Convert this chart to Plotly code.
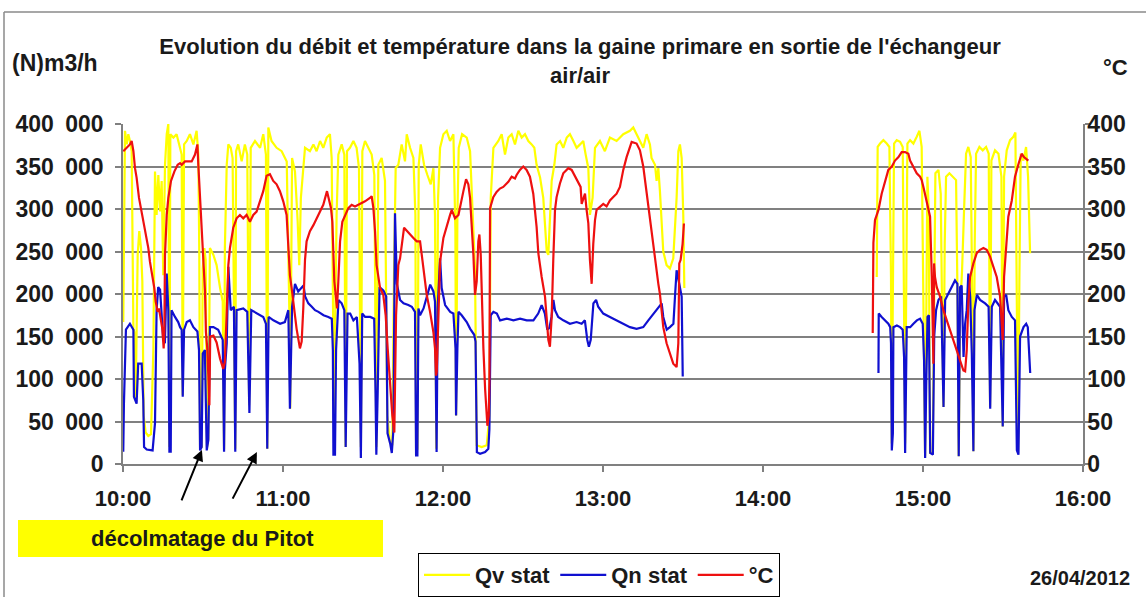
import plotly.graph_objects as go

# ---------------- DATA ----------------
# time = minutes after 10:00 on 26/04/2012
x_tick_minutes = [0, 60, 120, 180, 240, 300, 360]
x_tick_labels = ["10:00", "11:00", "12:00", "13:00", "14:00", "15:00", "16:00"]
q_tick_values = [0, 50000, 100000, 150000, 200000, 250000, 300000, 350000, 400000]
q_tick_labels = ["0", "50\u2002000", "100\u2002000", "150\u2002000", "200\u2002000", "250\u2002000",
                 "300\u2002000", "350\u2002000", "400\u2002000"]
t_tick_values = [0, 50, 100, 150, 200, 250, 300, 350, 400]
t_tick_labels = ["0", "50", "100", "150", "200", "250", "300", "350", "400"]

# Qv stat (thousand m3/h), morning and afternoon recordings  (minute, value)
qv_am = [(0.1,167),(0.75,392),(1.4,376),(2.0,388),(2.6,380),(3.25,368),(3.9,159),(4.25,155),(4.75,77),(5.5,246),
         (6.1,274),(6.75,254),(7.25,215),(7.75,57),(8.5,37),(9.5,33),(10.5,35),(11.4,136),(12.0,344),(12.6,293),
         (13.25,340),(13.9,297),(14.5,333),(15.1,222),(15.75,352),(16.4,388),(17.0,400),(17.4,20),(17.75,388),(18.9,384),
         (20.1,388),(21.4,372),(22.0,364),(22.4,81),(22.9,376),(23.9,380),(25.1,388),(26.4,376),(27.6,392),(28.25,364),
         (28.6,250),(28.9,20),(29.5,20),(29.9,230),(30.5,254),(31.0,240),(31.3,150),(31.5,20),(32.0,30),(32.6,254),
         (33.9,246),(35.1,234),(36.4,207),(37.4,191),(37.9,18),(38.2,254),(38.9,352),(39.5,376),(40.4,372),(41.1,360),
         (42.1,18),(42.4,368),(43.2,376),(44.5,356),(45.7,376),(46.6,364),(47.3,69),(47.9,372),(49.5,380),(51.4,372),
         (52.6,388),(53.6,364),(54.1,18),(54.5,396),(55.7,380),(57.6,372),(59.5,368),(61.4,356),(62.4,175),(62.7,65),
         (63.4,360),(64.5,344),(65.5,285),(66.1,234),(66.7,313),(67.6,352),(68.25,372),(70.1,368),(71.4,376),(72.6,368),
         (73.9,380),(75.1,372),(76.4,384),(77.6,388),(78.25,360),(78.9,136),(79.2,20),(79.5,144),(80.1,293),(80.75,364),
         (82.0,376),(83.0,364),(83.5,20),(84.0,368),(85.1,372),(86.4,380),(87.6,372),(88.5,348),(89.2,20),(89.75,368),
         (90.75,380),(92.0,372),(93.25,364),(94.25,340),(95.0,20),(95.75,352),(97.0,360),(98.25,333),(99.1,57),(100.1,26),
         (101.0,22),(101.6,215),(102.25,348),(103.25,352),(104.5,376),(105.75,356),(106.4,388),(107.65,372),(108.9,360),(109.65,293),
         (109.9,18),(110.4,18),(110.9,352),(111.65,376),(112.9,352),(114.15,340),(115.4,329),(116.4,348),(117.0,293),(117.5,18),
         (118.15,313),(118.9,372),(120.15,388),(121.4,392),(122.65,380),(123.9,388),(124.65,274),(124.9,57),(125.4,293),(125.9,372),
         (127.15,388),(128.9,384),(130.15,368),(131.15,293),(132.0,230),(132.65,22),(134.5,20),(136.4,22),(137.4,57),(137.9,313),
         (138.9,372),(140.75,380),(142.0,388),(143.25,364),(144.5,384),(145.75,388),(147.0,376),(148.25,392),(149.5,384),(150.75,388),
         (152.0,380),(153.25,376),(154.25,372),(155.1,352),(156.4,337),(157.6,313),(158.25,274),(158.9,250),(159.5,246),(160.1,293),
         (160.75,333),(161.75,352),(162.6,376),(163.9,380),(165.1,372),(166.4,384),(167.6,388),(168.9,380),(170.1,372),(171.4,376),
         (172.6,380),(173.5,364),(174.5,348),(175.1,293),(176.1,313),(177.0,372),(178.85,380),(180.7,368),(182.6,384),(185.1,380),
         (187.6,388),(190.1,392),(191.35,396),(192.6,388),(193.85,380),(195.1,372),(196.35,388),(197.6,376),(198.2,360),(199.5,352),
         (200.1,333),(200.75,348),(201.35,321),(202.0,274),(202.6,250),(203.85,234),(205.1,230),(206.35,242),(207.0,274),(207.6,313),
         (208.25,368),(208.85,376),(209.5,360),(210.1,293),(210.5,207)]
qv_pm = [(282.65,220),(283.0,373),(283.9,377),(285.15,381),(286.4,377),(287.4,373),(288.0,220),(288.3,24),(288.65,181),(289.15,377),
         (290.15,381),(291.4,379),(292.4,373),(292.9,142),(293.3,24),(293.65,181),(294.15,377),(295.15,381),(296.4,377),(297.65,385),
         (298.65,392),(299.5,373),(300.15,220),(300.8,9),(301.15,142),(301.65,338),(302.15,299),(302.65,13),(303.65,13),(304.15,220),
         (304.65,342),(305.8,346),(306.65,318),(307.15,181),(307.65,67),(308.15,260),(308.65,338),(309.9,342),(311.15,338),(312.4,334),
         (313.0,181),(313.4,9),(313.9,181),(314.65,228),(315.4,299),(316.15,365),(317.0,373),(317.9,361),(318.5,181),(318.9,15),
         (319.4,260),(319.9,365),(321.15,373),(322.4,369),(323.65,373),(324.65,365),(325.15,67),(325.65,357),(327.0,369),(328.3,365),
         (329.4,338),(329.9,44),(330.4,338),(331.4,369),(332.65,381),(333.9,385),(334.65,390),(335.15,181),(335.65,13),(336.15,220),
         (336.65,365),(337.65,357),(338.65,373),(339.4,338),(340.15,248)]

# Qn stat (thousand Nm3/h)
qn_am = [(0.1,14.5),(0.35,71),(1.1,158),(2.6,165),(3.9,158),(4.1,79),(5.1,71),(5.7,118),(7.0,118),(7.6,75),
         (7.9,20),(8.9,17),(11.1,16),(12.0,48),(12.6,181),(13.2,208),(13.9,205),(14.5,181),(15.1,146),(15.7,142),
         (16.4,224),(17.0,181),(17.4,14.5),(17.9,14.5),(18.2,181),(19.5,173),(20.7,167),(21.4,161),(22.0,158),(22.4,79),
         (22.9,158),(23.9,167),(25.1,169),(26.4,161),(27.9,156),(28.5,134),(28.9,16),(29.5,20),(29.9,130),(30.7,134),
         (31.4,16),(32.0,28),(32.6,161),(33.9,161),(35.7,158),(37.4,146),(37.9,14.5),(38.2,110),(38.9,142),(39.5,232),
         (40.4,181),(41.6,185),(42.1,14.5),(42.6,181),(45.1,183),(46.6,179),(47.4,60),(48.1,181),(50.1,177),(52.6,173),
         (53.6,165),(54.1,18),(54.6,173),(56.4,169),(58.9,165),(60.7,167),(62.0,181),(62.6,65),(63.4,185),(64.5,212),
         (65.7,203),(67.7,210),(68.3,197),(69.5,189),(70.8,185),(72.0,181),(73.3,179),(75.2,175),(77.0,173),(78.3,171),
         (78.7,134),(78.9,11),(79.5,11),(79.9,134),(80.8,193),(82.0,189),(83.0,181),(83.5,20),(84.2,177),(85.2,177),
         (86.4,169),(87.7,173),(88.7,118),(89.2,7),(89.7,177),(90.8,173),(92.7,173),(94.2,171),(94.7,83),(95.0,11),
         (95.5,83),(96.2,208),(97.7,204),(98.7,197),(99.2,36),(100.2,24),(100.8,13),(101.4,40),(102.0,295),(102.7,212),
         (103.9,193),(105.2,189),(107.0,187),(108.3,185),(109.5,179),(109.9,10),(110.4,10),(110.8,183),(111.4,175),(112.7,183),
         (115.2,211),(116.4,203),(117.0,191),(117.3,100),(117.6,14),(118.0,183),(118.9,242),(119.5,207),(120.8,187),(122.7,179),
         (123.9,177),(124.7,136),(124.9,57),(125.4,136),(125.8,179),(127.0,175),(128.9,167),(130.2,159),(131.7,152),(132.2,144),
         (132.7,14),(133.9,12),(135.8,14),(137.0,18),(137.4,41),(137.9,175),(138.9,179),(140.2,177),(141.4,169),(143.9,171),
         (146.4,169),(148.9,171),(151.4,169),(153.9,169),(155.7,177),(157.0,187),(158.2,177),(159.1,158),(159.9,160),(160.7,173),
         (161.4,193),(162.0,181),(163.2,173),(165.1,169),(167.6,165),(170.1,167),(172.0,165),(173.2,169),(174.1,146),(174.7,138),
         (175.4,146),(176.4,189),(177.4,193),(178.2,185),(180.1,177),(182.6,173),(185.1,169),(187.6,165),(190.1,161),(192.6,159),
         (195.1,161),(197.0,169),(198.9,177),(200.7,185),(202.0,189),(202.6,173),(203.9,158),(205.1,161),(206.4,165),(207.0,197),
         (207.6,228),(208.6,212),(209.5,197),(209.9,103)]
qn_pm = [(283.3,107),(283.4,177),(284.5,173),(285.8,169),(287.0,165),(287.7,161),(288.0,142),(288.3,16),(288.7,36),(288.9,161),
         (290.2,163),(291.4,161),(292.4,158),(292.9,126),(293.3,13),(293.9,161),(295.2,161),(296.4,165),(297.7,169),(298.9,171),
         (299.9,165),(300.4,122),(300.8,7),(301.2,91),(301.7,173),(302.2,175),(302.7,13),(303.7,11),(304.2,150),(304.9,181),
         (305.8,193),(306.8,197),(307.7,67),(308.3,193),(309.5,201),(310.8,208),(312.0,216),(312.9,212),(313.4,9),(313.9,208),
         (314.5,210),(315.2,126),(315.8,165),(316.4,181),(317.0,224),(317.7,197),(318.3,130),(318.9,15),(319.3,181),(320.2,199),
         (321.4,193),(323.3,189),(324.6,185),(325.2,65),(325.8,185),(327.0,193),(328.9,185),(329.9,44),(330.4,197),(331.2,199),
         (332.0,181),(333.3,173),(334.5,169),(335.2,16),(335.8,11),(336.4,150),(337.7,161),(338.7,165),(339.3,161),(340.2,107)]

# Temperature (°C)
temp_am = [(0.1,368),(1.4,372),(2.6,376),(3.25,380),(3.9,368),(4.5,348),(5.1,337),(6.0,313),(7.0,297),(8.0,278),
           (8.9,266),(9.5,254),(10.1,238),(11.0,222),(11.75,207),(12.25,191),(13.0,179),(13.5,183),(14.25,167),(14.75,159),
           (15.25,136),(15.5,155),(15.75,246),(16.4,293),(17.0,313),(18.0,333),(19.25,344),(20.5,352),(21.4,354),(22.0,352),
           (23.25,356),(24.5,356),(25.75,356),(27.0,364),(27.9,376),(28.25,352),(28.9,313),(29.5,274),(30.1,234),(30.75,203),
           (31.1,155),(31.6,136),(32.0,104),(32.4,69),(32.7,150),(33.9,151),(35.1,143),(36.4,124),(37.6,112),(38.2,120),
           (38.85,175),(39.5,234),(40.1,254),(40.7,266),(41.35,278),(42.6,289),(43.85,293),(45.1,289),(46.35,293),(47.6,285),
           (48.85,293),(50.1,297),(51.35,309),(52.6,321),(53.85,339),(55.1,341),(56.35,333),(57.6,329),(58.85,321),(60.1,309),
           (61.35,293),(62.0,254),(62.6,222),(63.25,207),(63.85,191),(64.5,175),(65.1,159),(66.35,136),(67.0,144),(67.6,183),
           (68.25,240),(68.85,262),(70.1,274),(71.4,281),(72.6,289),(73.9,297),(75.1,305),(76.5,321),(77.25,309),(78.0,301),
           (78.5,285),(79.25,215),(79.75,199),(80.25,183),(80.75,215),(81.4,262),(82.25,285),(83.25,293),(84.5,301),(85.75,305),
           (87.0,303),(88.25,305),(89.5,307),(90.75,309),(92.6,313),(93.25,315),(93.9,301),(94.5,274),(95.1,234),(96.4,207),
           (97.6,199),(98.5,175),(99.25,136),(100.1,96),(101.0,57),(101.75,37),(102.0,96),(102.4,175),(103.25,234),(103.9,242),
           (105.4,278),(106.4,274),(107.7,270),(108.9,266),(110.15,262),(111.4,262),(112.0,246),(112.65,226),(113.3,215),(113.9,199),
           (115.15,179),(116.4,155),(117.0,136),(117.4,104),(117.65,108),(118.3,191),(118.9,238),(120.15,266),(121.4,281),(122.65,293),
           (123.3,299),(123.9,293),(124.5,289),(125.8,293),(126.4,301),(127.0,309),(127.65,321),(128.65,335),(129.5,329),(130.15,313),
           (130.75,285),(131.4,246),(132.0,199),(132.65,215),(133.25,262),(133.65,270),(134.15,246),(134.5,199),(135.15,136),(135.8,88),
           (136.65,45),(137.15,57),(137.4,96),(137.65,301),(138.85,314),(140.1,320),(141.35,324),(142.6,326),(143.85,330),(144.5,332),
           (145.75,338),(147.0,336),(147.6,340),(148.85,346),(150.1,350),(151.35,346),(152.6,338),(153.85,318),(155.1,279),(155.75,248),
           (157.0,220),(158.25,197),(158.85,173),(159.5,146),(160.1,138),(160.75,173),(161.35,240),(162.0,299),(162.6,314),(163.85,330),
           (165.1,342),(167.0,348),(168.25,346),(169.5,338),(170.75,330),(171.6,326),(172.0,306),(173.25,318),(173.85,299),(174.5,283),
           (175.1,240),(175.75,212),(176.35,259),(177.0,287),(177.6,299),(178.85,303),(180.1,306),(181.35,303),(182.6,310),(183.85,314),
           (185.1,318),(186.35,326),(187.6,346),(188.85,361),(190.1,373),(190.75,379),(192.6,377),(193.85,369),(195.1,350),(196.35,318),
           (197.6,291),(198.85,259),(200.1,228),(200.75,212),(201.35,200),(202.6,161),(203.85,142),(205.1,130),(206.35,118),(207.6,114),
           (208.25,142),(208.6,236),(209.1,240),(209.85,259),(210.35,283)]
temp_pm = [(281.15,154),(281.4,260),(282.0,287),(283.3,299),(284.5,318),(285.8,334),(287.0,346),(288.3,350),(289.5,357),(290.8,361),
           (292.0,367),(293.3,367),(294.5,365),(295.15,357),(296.4,350),(297.65,342),(298.9,338),(299.5,334),(300.15,326),(301.4,310),
           (302.0,299),(302.65,291),(303.3,220),(303.65,142),(303.9,118),(304.15,236),(304.5,220),(305.15,208),(306.4,197),(307.65,181),
           (308.9,169),(310.15,158),(311.4,146),(312.65,134),(313.9,122),(315.15,110),(315.8,109),(316.4,134),(317.0,189),(317.65,220),
           (318.9,236),(320.15,248),(321.4,252),(322.65,254),(323.9,252),(325.15,244),(326.4,232),(327.65,220),(328.9,197),(329.5,165),
           (329.9,146),(330.4,220),(331.15,256),(332.0,291),(333.3,310),(334.5,338),(335.8,353),(337.0,365),(337.9,361),(338.9,359),
           (339.5,357)]

series_names = ["Qv stat", "Qn stat", "°C"]
series_colors = ["#FFFF00", "#1010D0", "#EE1010"]


def join(am, pm, scale=1.0):
    xs = [p[0] for p in am] + [None] + [p[0] for p in pm]
    ys = [p[1] * scale for p in am] + [None] + [p[1] * scale for p in pm]
    return xs, ys


FONT = "Liberation Sans, Arial, sans-serif"
INK = "#1a1a1a"
GRID = "#808080"

fig = go.Figure()
qx, qy = join(qv_am, qv_pm, 1000)
fig.add_trace(go.Scatter(x=qx, y=qy, mode="lines", name=series_names[0],
                         line=dict(color=series_colors[0], width=2.2)))
nx, ny = join(qn_am, qn_pm, 1000)
fig.add_trace(go.Scatter(x=nx, y=ny, mode="lines", name=series_names[1],
                         line=dict(color=series_colors[1], width=2.2)))
tx, ty = join(temp_am, temp_pm)
fig.add_trace(go.Scatter(x=tx, y=ty, mode="lines", name=series_names[2], yaxis="y2",
                         line=dict(color=series_colors[2], width=2.2)))

fig.update_layout(
    width=1146, height=597,
    margin=dict(l=123, r=63, t=124, b=133, pad=0),
    paper_bgcolor="white", plot_bgcolor="white",
    font=dict(family=FONT, color=INK),
    title=dict(text="Evolution du débit et température dans la gaine primare en sortie de l'échangeur<br>air/air",
               x=580 / 1146, xanchor="center", y=1 - 54 / 597, yanchor="top", yref="container",
               font=dict(size=22, weight="bold", color=INK, family=FONT)),
    xaxis=dict(range=[0, 360], tickmode="array", tickvals=x_tick_minutes, ticktext=x_tick_labels,
               automargin=False,
               showgrid=False, zeroline=False, showline=True, linecolor=GRID, linewidth=1.5,
               ticks="outside", ticklen=6, tickcolor=GRID, tickwidth=1.5, ticklabelstandoff=8,
               tickfont=dict(size=22, weight="bold", family=FONT, color=INK)),
    yaxis=dict(range=[0, 400000], tickmode="array", tickvals=q_tick_values, ticktext=q_tick_labels,
               automargin=False,
               showgrid=True, gridcolor=GRID, gridwidth=1.5, zeroline=False, showline=True,
               linecolor=GRID, linewidth=1.5, ticks="outside", ticklen=6, tickcolor=GRID, tickwidth=1.5,
               ticklabelstandoff=7, tickfont=dict(size=23, weight="bold", family=FONT, color=INK)),
    yaxis2=dict(range=[0, 400], tickmode="array", tickvals=t_tick_values, ticktext=t_tick_labels,
                automargin=False,
                overlaying="y", side="right", showgrid=False, zeroline=False, showline=True,
                linecolor=GRID, linewidth=1.5, ticks="outside", ticklen=6, tickcolor=GRID, tickwidth=1.5,
                ticklabelstandoff=-8, tickfont=dict(size=23, weight="bold", family=FONT, color=INK)),
    showlegend=True,
    legend=dict(orientation="h", xref="container", yref="container",
                x=418 / 1146, y=1 - 575 / 597, xanchor="left", yanchor="middle",
                itemwidth=46,
                bordercolor="black", borderwidth=1, bgcolor="white",
                font=dict(size=22, weight="bold", family=FONT, color=INK)),
)


def px_x(px):
    return (px - 123) / 960


def px_y(py):
    return (464 - py) / 340


# yellow label box and outer frame
fig.add_shape(type="rect", xref="paper", yref="paper", x0=px_x(18), x1=px_x(383), y0=px_y(557), y1=px_y(520),
              fillcolor="#FFFF00", line=dict(width=0), layer="below")
fig.add_shape(type="line", xref="paper", yref="paper", x0=px_x(4), x1=px_x(1150), y0=px_y(12), y1=px_y(12),
              line=dict(color="#8a8a8a", width=1.5))
fig.add_shape(type="line", xref="paper", yref="paper", x0=px_x(4), x1=px_x(4), y0=px_y(12), y1=px_y(600),
              line=dict(color="#8a8a8a", width=1.5))

annots = [
    dict(text="<b>(N)m3/h</b>", x=px_x(55), y=px_y(63), size=23),
    dict(text="<b>°C</b>", x=px_x(1115), y=px_y(68), size=22),
    dict(text="<b>26/04/2012</b>", x=px_x(1080), y=px_y(578), size=20),
    dict(text="<b>décolmatage du Pitot</b>", x=px_x(202), y=px_y(538), size=22),
]
for a in annots:
    fig.add_annotation(text=a["text"], x=a["x"], y=a["y"], xref="paper", yref="paper", showarrow=False,
                       xanchor="center", yanchor="middle", font=dict(size=a["size"], family=FONT, color=INK))

# arrows pointing at the Pitot cleaning events
for ev_min, ev_val, ax, ay in [(29.6, 16500, -21, 52), (50.2, 14000, -25, 48)]:
    fig.add_annotation(x=ev_min, y=ev_val, xref="x", yref="y", text="", showarrow=True,
                       ax=ax, ay=ay, arrowhead=2, arrowsize=1.1, arrowwidth=2, arrowcolor="black")

fig.write_html("out.html", config={"displayModeBar": False},
               post_script="document.body.style.margin='0px';")
